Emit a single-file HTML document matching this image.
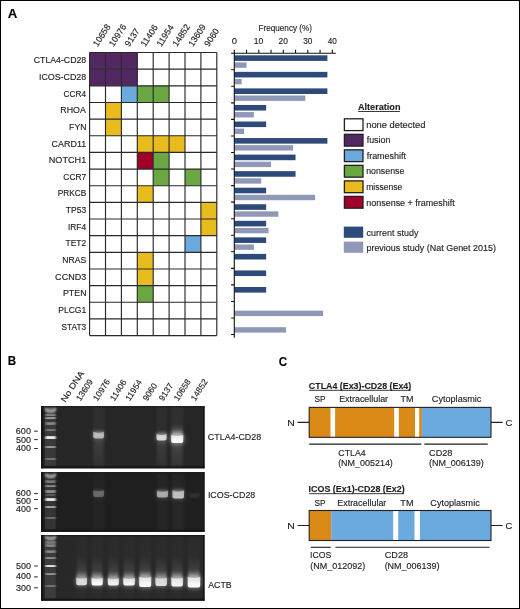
<!DOCTYPE html><html><head><meta charset="utf-8"><style>html,body{margin:0;padding:0;background:#fff;}svg{display:block;will-change:transform;}text{font-family:"Liberation Sans", sans-serif;stroke:#231f20;stroke-width:0.15px;}</style></head><body>
<svg width="520" height="609" viewBox="0 0 520 609">
<defs>
<filter id="b05" x="-50%" y="-50%" width="200%" height="200%"><feGaussianBlur stdDeviation="0.5"/></filter>
<filter id="b1" x="-50%" y="-50%" width="200%" height="200%"><feGaussianBlur stdDeviation="0.8"/></filter>
<filter id="b2" x="-50%" y="-50%" width="200%" height="200%"><feGaussianBlur stdDeviation="1.3"/></filter>
<filter id="b3" x="-50%" y="-50%" width="200%" height="200%"><feGaussianBlur stdDeviation="2.2"/></filter>
<linearGradient id="smear" x1="0" y1="0" x2="0" y2="1"><stop offset="0" stop-color="#fff" stop-opacity="0"/><stop offset="1" stop-color="#fff" stop-opacity="0.4"/></linearGradient>
<linearGradient id="g01" x1="0" y1="0" x2="0" y2="1"><stop offset="0" stop-color="#fff" stop-opacity="0"/><stop offset="1" stop-color="#fff" stop-opacity="1"/></linearGradient>
<linearGradient id="g10" x1="0" y1="0" x2="0" y2="1"><stop offset="0" stop-color="#fff" stop-opacity="1"/><stop offset="1" stop-color="#fff" stop-opacity="0.2"/></linearGradient>
<linearGradient id="gcore" x1="0" y1="0" x2="0" y2="1"><stop offset="0" stop-color="#fff" stop-opacity="0.6"/><stop offset="0.55" stop-color="#fff" stop-opacity="0.92"/><stop offset="1" stop-color="#fff" stop-opacity="1"/></linearGradient>
<linearGradient id="bandg" x1="0" y1="0" x2="0" y2="1"><stop offset="0" stop-color="#fff" stop-opacity="0.35"/><stop offset="0.45" stop-color="#fff" stop-opacity="0.85"/><stop offset="1" stop-color="#fff" stop-opacity="1"/></linearGradient>
</defs>
<rect x="0" y="0" width="520" height="609" fill="#fff"/>
<rect x="0.5" y="0.5" width="519" height="608" fill="none" stroke="#000" stroke-width="1"/>
<text x="7.77" y="18.30" font-size="13" font-weight="bold" fill="#000" textLength="9.58" lengthAdjust="spacingAndGlyphs">A</text>
<text x="7.82" y="365.40" font-size="13" font-weight="bold" fill="#000" textLength="8.41" lengthAdjust="spacingAndGlyphs">B</text>
<text x="278.82" y="365.60" font-size="13" font-weight="bold" fill="#000" textLength="8.39" lengthAdjust="spacingAndGlyphs">C</text>
<rect x="89.60" y="52.50" width="15.90" height="16.65" fill="#522862"/>
<rect x="105.50" y="52.50" width="15.90" height="16.65" fill="#522862"/>
<rect x="121.40" y="52.50" width="15.90" height="16.65" fill="#522862"/>
<rect x="89.60" y="69.15" width="15.90" height="16.65" fill="#522862"/>
<rect x="105.50" y="69.15" width="15.90" height="16.65" fill="#522862"/>
<rect x="121.40" y="69.15" width="15.90" height="16.65" fill="#522862"/>
<rect x="121.40" y="85.80" width="15.90" height="16.65" fill="#6aaadf"/>
<rect x="137.30" y="85.80" width="15.90" height="16.65" fill="#6aa642"/>
<rect x="153.20" y="85.80" width="15.90" height="16.65" fill="#6aa642"/>
<rect x="105.50" y="102.45" width="15.90" height="16.65" fill="#e8bc1e"/>
<rect x="105.50" y="119.10" width="15.90" height="16.65" fill="#e8bc1e"/>
<rect x="137.30" y="135.75" width="15.90" height="16.65" fill="#e8bc1e"/>
<rect x="153.20" y="135.75" width="15.90" height="16.65" fill="#e8bc1e"/>
<rect x="169.10" y="135.75" width="15.90" height="16.65" fill="#e8bc1e"/>
<rect x="137.30" y="152.40" width="15.90" height="16.65" fill="#a2002a"/>
<rect x="153.20" y="152.40" width="15.90" height="16.65" fill="#6aa642"/>
<rect x="153.20" y="169.05" width="15.90" height="16.65" fill="#6aa642"/>
<rect x="185.00" y="169.05" width="15.90" height="16.65" fill="#6aa642"/>
<rect x="137.30" y="185.70" width="15.90" height="16.65" fill="#e8bc1e"/>
<rect x="200.90" y="202.35" width="15.90" height="16.65" fill="#e8bc1e"/>
<rect x="200.90" y="219.00" width="15.90" height="16.65" fill="#e8bc1e"/>
<rect x="185.00" y="235.65" width="15.90" height="16.65" fill="#6aaadf"/>
<rect x="137.30" y="252.30" width="15.90" height="16.65" fill="#e8bc1e"/>
<rect x="137.30" y="268.95" width="15.90" height="16.65" fill="#e8bc1e"/>
<rect x="137.30" y="285.60" width="15.90" height="16.65" fill="#6aa642"/>
<path d="M89.60 52.50V335.55M105.50 52.50V335.55M121.40 52.50V335.55M137.30 52.50V335.55M153.20 52.50V335.55M169.10 52.50V335.55M185.00 52.50V335.55M200.90 52.50V335.55M216.80 52.50V335.55M89.60 52.50H216.80M89.60 69.15H216.80M89.60 85.80H216.80M89.60 102.45H216.80M89.60 119.10H216.80M89.60 135.75H216.80M89.60 152.40H216.80M89.60 169.05H216.80M89.60 185.70H216.80M89.60 202.35H216.80M89.60 219.00H216.80M89.60 235.65H216.80M89.60 252.30H216.80M89.60 268.95H216.80M89.60 285.60H216.80M89.60 302.25H216.80M89.60 318.90H216.80M89.60 335.55H216.80" stroke="#2a2a2a" stroke-width="1.15" fill="none"/>
<text x="33.76" y="63.28" font-size="9" fill="#231f20" textLength="52.42" lengthAdjust="spacingAndGlyphs">CTLA4-CD28</text>
<text x="38.98" y="79.92" font-size="9" fill="#231f20" textLength="47.20" lengthAdjust="spacingAndGlyphs">ICOS-CD28</text>
<text x="63.58" y="96.58" font-size="9" fill="#231f20" textLength="22.46" lengthAdjust="spacingAndGlyphs">CCR4</text>
<text x="60.27" y="113.22" font-size="9" fill="#231f20" textLength="25.54" lengthAdjust="spacingAndGlyphs">RHOA</text>
<text x="69.09" y="129.88" font-size="9" fill="#231f20" textLength="17.43" lengthAdjust="spacingAndGlyphs">FYN</text>
<text x="51.55" y="146.52" font-size="9" fill="#231f20" textLength="34.68" lengthAdjust="spacingAndGlyphs">CARD11</text>
<text x="48.75" y="163.17" font-size="9" fill="#231f20" textLength="37.49" lengthAdjust="spacingAndGlyphs">NOTCH1</text>
<text x="63.37" y="179.82" font-size="9" fill="#231f20" textLength="22.85" lengthAdjust="spacingAndGlyphs">CCR7</text>
<text x="57.72" y="196.47" font-size="9" fill="#231f20" textLength="28.52" lengthAdjust="spacingAndGlyphs">PRKCB</text>
<text x="65.81" y="213.12" font-size="9" fill="#231f20" textLength="20.37" lengthAdjust="spacingAndGlyphs">TP53</text>
<text x="67.93" y="229.77" font-size="9" fill="#231f20" textLength="18.12" lengthAdjust="spacingAndGlyphs">IRF4</text>
<text x="65.51" y="246.42" font-size="9" fill="#231f20" textLength="20.72" lengthAdjust="spacingAndGlyphs">TET2</text>
<text x="62.29" y="263.07" font-size="9" fill="#231f20" textLength="23.90" lengthAdjust="spacingAndGlyphs">NRAS</text>
<text x="55.14" y="279.72" font-size="9" fill="#231f20" textLength="31.05" lengthAdjust="spacingAndGlyphs">CCND3</text>
<text x="62.98" y="296.37" font-size="9" fill="#231f20" textLength="23.54" lengthAdjust="spacingAndGlyphs">PTEN</text>
<text x="58.20" y="313.02" font-size="9" fill="#231f20" textLength="28.02" lengthAdjust="spacingAndGlyphs">PLCG1</text>
<text x="61.44" y="329.67" font-size="9" fill="#231f20" textLength="24.71" lengthAdjust="spacingAndGlyphs">STAT3</text>
<text x="0" y="0" font-size="8.8" fill="#231f20" transform="translate(97.55,47.2) rotate(-57)">10658</text>
<text x="0" y="0" font-size="8.8" fill="#231f20" transform="translate(113.45,47.2) rotate(-57)">10976</text>
<text x="0" y="0" font-size="8.8" fill="#231f20" transform="translate(129.35,47.2) rotate(-57)">9137</text>
<text x="0" y="0" font-size="8.8" fill="#231f20" transform="translate(145.25,47.2) rotate(-57)">11406</text>
<text x="0" y="0" font-size="8.8" fill="#231f20" transform="translate(161.15,47.2) rotate(-57)">11954</text>
<text x="0" y="0" font-size="8.8" fill="#231f20" transform="translate(177.05,47.2) rotate(-57)">14852</text>
<text x="0" y="0" font-size="8.8" fill="#231f20" transform="translate(192.95,47.2) rotate(-57)">13609</text>
<text x="0" y="0" font-size="8.8" fill="#231f20" transform="translate(208.85,47.2) rotate(-57)">9060</text>
<rect x="234.30" y="55.30" width="93.10" height="5.6" fill="#2e4a7a"/>
<rect x="234.30" y="62.40" width="12.25" height="5.4" fill="#9098b8"/>
<rect x="234.30" y="71.85" width="93.10" height="5.6" fill="#2e4a7a"/>
<rect x="234.30" y="78.95" width="7.35" height="5.4" fill="#9098b8"/>
<rect x="234.30" y="88.40" width="93.10" height="5.6" fill="#2e4a7a"/>
<rect x="234.30" y="95.50" width="71.05" height="5.4" fill="#9098b8"/>
<rect x="234.30" y="104.95" width="31.85" height="5.6" fill="#2e4a7a"/>
<rect x="234.30" y="112.05" width="19.60" height="5.4" fill="#9098b8"/>
<rect x="234.30" y="121.50" width="31.85" height="5.6" fill="#2e4a7a"/>
<rect x="234.30" y="128.60" width="9.80" height="5.4" fill="#9098b8"/>
<rect x="234.30" y="138.05" width="93.10" height="5.6" fill="#2e4a7a"/>
<rect x="234.30" y="145.15" width="58.80" height="5.4" fill="#9098b8"/>
<rect x="234.30" y="154.60" width="61.25" height="5.6" fill="#2e4a7a"/>
<rect x="234.30" y="161.70" width="36.75" height="5.4" fill="#9098b8"/>
<rect x="234.30" y="171.15" width="61.25" height="5.6" fill="#2e4a7a"/>
<rect x="234.30" y="178.25" width="26.95" height="5.4" fill="#9098b8"/>
<rect x="234.30" y="187.70" width="31.85" height="5.6" fill="#2e4a7a"/>
<rect x="234.30" y="194.80" width="80.85" height="5.4" fill="#9098b8"/>
<rect x="234.30" y="204.25" width="31.85" height="5.6" fill="#2e4a7a"/>
<rect x="234.30" y="211.35" width="44.10" height="5.4" fill="#9098b8"/>
<rect x="234.30" y="220.80" width="31.85" height="5.6" fill="#2e4a7a"/>
<rect x="234.30" y="227.90" width="34.30" height="5.4" fill="#9098b8"/>
<rect x="234.30" y="237.35" width="31.85" height="5.6" fill="#2e4a7a"/>
<rect x="234.30" y="244.45" width="19.60" height="5.4" fill="#9098b8"/>
<rect x="234.30" y="253.90" width="31.85" height="5.6" fill="#2e4a7a"/>
<rect x="234.30" y="270.45" width="31.85" height="5.6" fill="#2e4a7a"/>
<rect x="234.30" y="287.00" width="31.85" height="5.6" fill="#2e4a7a"/>
<rect x="234.30" y="310.65" width="88.69" height="5.4" fill="#9098b8"/>
<rect x="234.30" y="327.20" width="51.70" height="5.4" fill="#9098b8"/>
<path d="M231.10 53.20H335.80M234.30 53.20V337.75M234.30 53.20V49.80M246.55 53.20V49.80M258.80 53.20V49.80M271.05 53.20V49.80M283.30 53.20V49.80M295.55 53.20V49.80M307.80 53.20V49.80M320.05 53.20V49.80M332.30 53.20V49.80M234.30 69.75H231.10M234.30 86.30H231.10M234.30 102.85H231.10M234.30 119.40H231.10M234.30 135.95H231.10M234.30 152.50H231.10M234.30 169.05H231.10M234.30 185.60H231.10M234.30 202.15H231.10M234.30 218.70H231.10M234.30 235.25H231.10M234.30 251.80H231.10M234.30 268.35H231.10M234.30 284.90H231.10M234.30 301.45H231.10M234.30 318.00H231.10M234.30 334.55H231.10" stroke="#111" stroke-width="1.1" fill="none"/>
<text x="231.68" y="44.20" font-size="8.8" fill="#231f20" textLength="5.24" lengthAdjust="spacingAndGlyphs">0</text>
<text x="253.84" y="44.20" font-size="8.8" fill="#231f20" textLength="9.59" lengthAdjust="spacingAndGlyphs">10</text>
<text x="278.58" y="44.20" font-size="8.8" fill="#231f20" textLength="9.35" lengthAdjust="spacingAndGlyphs">20</text>
<text x="303.18" y="44.20" font-size="8.8" fill="#231f20" textLength="9.24" lengthAdjust="spacingAndGlyphs">30</text>
<text x="327.81" y="44.20" font-size="8.8" fill="#231f20" textLength="9.11" lengthAdjust="spacingAndGlyphs">40</text>
<text x="258.53" y="30.50" font-size="9.6" fill="#231f20" textLength="53.47" lengthAdjust="spacingAndGlyphs">Frequency (%)</text>
<text x="357.97" y="109.90" font-size="9.4" font-weight="bold" fill="#231f20" textLength="42.49" lengthAdjust="spacingAndGlyphs">Alteration</text>
<path d="M358.2 111.5H399.9" stroke="#231f20" stroke-width="0.9"/>
<rect x="344.4" y="118.80" width="18.6" height="11.8" fill="#fff" stroke="#231f20" stroke-width="1.3"/>
<text x="366.18" y="127.90" font-size="9.2" fill="#231f20" textLength="59.32" lengthAdjust="spacingAndGlyphs">none detected</text>
<rect x="344.4" y="134.32" width="18.6" height="11.8" fill="#522862" stroke="#231f20" stroke-width="1.3"/>
<text x="366.67" y="143.42" font-size="9.2" fill="#231f20" textLength="23.81" lengthAdjust="spacingAndGlyphs">fusion</text>
<rect x="344.4" y="149.84" width="18.6" height="11.8" fill="#6aaadf" stroke="#231f20" stroke-width="1.3"/>
<text x="366.67" y="158.94" font-size="9.2" fill="#231f20" textLength="39.39" lengthAdjust="spacingAndGlyphs">frameshift</text>
<rect x="344.4" y="165.36" width="18.6" height="11.8" fill="#6aa642" stroke="#231f20" stroke-width="1.3"/>
<text x="366.22" y="174.46" font-size="9.2" fill="#231f20" textLength="38.07" lengthAdjust="spacingAndGlyphs">nonsense</text>
<rect x="344.4" y="180.88" width="18.6" height="11.8" fill="#e8bc1e" stroke="#231f20" stroke-width="1.3"/>
<text x="366.23" y="189.98" font-size="9.2" fill="#231f20" textLength="36.15" lengthAdjust="spacingAndGlyphs">missense</text>
<rect x="344.4" y="196.40" width="18.6" height="11.8" fill="#a2002a" stroke="#231f20" stroke-width="1.3"/>
<text x="366.20" y="205.50" font-size="9.2" fill="#231f20" textLength="88.56" lengthAdjust="spacingAndGlyphs">nonsense + frameshift</text>
<rect x="343.8" y="226.60" width="19.4" height="11.2" fill="#2e4a7a"/>
<text x="366.62" y="235.50" font-size="9.2" fill="#231f20" textLength="51.80" lengthAdjust="spacingAndGlyphs">current study</text>
<rect x="343.8" y="241.60" width="19.4" height="11.2" fill="#9098b8"/>
<text x="366.42" y="250.50" font-size="9.2" fill="#231f20" textLength="129.63" lengthAdjust="spacingAndGlyphs">previous study (Nat Genet 2015)</text>
<rect x="41.1" y="406.2" width="163.4" height="62.1" fill="#262626"/>
<rect x="41.1" y="406.2" width="2.2" height="62.1" fill="#131313"/>
<rect x="41.1" y="466.3" width="163.4" height="2.0" fill="#151515"/>
<rect x="203.0" y="406.2" width="1.5" height="62.1" fill="#151515"/>
<rect x="41.1" y="406.2" width="163.4" height="1.0" fill="#161616"/>
<rect x="41.1" y="472.2" width="163.4" height="59.6" fill="#1f1f1f"/>
<rect x="41.1" y="472.2" width="2.2" height="59.6" fill="#131313"/>
<rect x="41.1" y="529.8" width="163.4" height="2.0" fill="#151515"/>
<rect x="203.0" y="472.2" width="1.5" height="59.6" fill="#151515"/>
<rect x="41.1" y="472.2" width="163.4" height="1.0" fill="#161616"/>
<rect x="41.1" y="535.1" width="163.4" height="65.6" fill="#282828"/>
<rect x="41.1" y="535.1" width="2.2" height="65.6" fill="#131313"/>
<rect x="41.1" y="598.7" width="163.4" height="2.0" fill="#151515"/>
<rect x="203.0" y="535.1" width="1.5" height="65.6" fill="#151515"/>
<rect x="41.1" y="535.1" width="163.4" height="1.0" fill="#161616"/>
<rect x="45.0" y="407.7" width="10.8" height="58.1" fill="#fff" opacity="0.09" filter="url(#b05)"/>
<path d="M45.6 408.10C46.10 411.30 47.60 411.80 50.6 411.80C53.60 411.80 55.10 411.30 55.6 408.10" stroke="#fff" stroke-width="2.0" fill="#fff" fill-opacity="0.5" opacity="0.63" filter="url(#b1)"/>
<path d="M45.6 414.45Q50.6 415.85 55.6 414.45" stroke="#fff" stroke-width="2.00" fill="none" stroke-linecap="butt" opacity="0.63" filter="url(#b1)"/>
<path d="M45.6 417.75Q50.6 419.15 55.6 417.75" stroke="#fff" stroke-width="2.50" fill="none" stroke-linecap="butt" opacity="0.72" filter="url(#b1)"/>
<path d="M45.6 423.15Q50.6 424.55 55.6 423.15" stroke="#fff" stroke-width="2.50" fill="none" stroke-linecap="butt" opacity="0.57" filter="url(#b1)"/>
<path d="M45.6 429.65Q50.6 431.05 55.6 429.65" stroke="#fff" stroke-width="2.50" fill="none" stroke-linecap="butt" opacity="0.45" filter="url(#b1)"/>
<path d="M45.6 437.25Q50.6 438.65 55.6 437.25" stroke="#fff" stroke-width="5.00" fill="none" stroke-linecap="butt" opacity="0.92" filter="url(#b1)"/>
<path d="M45.6 446.65Q50.6 448.05 55.6 446.65" stroke="#fff" stroke-width="3.12" fill="none" stroke-linecap="butt" opacity="0.60" filter="url(#b1)"/>
<path d="M45.6 458.65Q50.6 460.05 55.6 458.65" stroke="#fff" stroke-width="3.75" fill="none" stroke-linecap="butt" opacity="0.33" filter="url(#b1)"/>
<rect x="45.0" y="473.7" width="10.8" height="55.6" fill="#fff" opacity="0.09" filter="url(#b05)"/>
<path d="M45.6 473.70C46.10 476.70 47.60 477.20 50.6 477.20C53.60 477.20 55.10 476.70 55.6 473.70" stroke="#fff" stroke-width="2.0" fill="#fff" fill-opacity="0.5" opacity="0.63" filter="url(#b1)"/>
<path d="M45.6 481.25Q50.6 482.65 55.6 481.25" stroke="#fff" stroke-width="2.12" fill="none" stroke-linecap="butt" opacity="0.60" filter="url(#b1)"/>
<path d="M45.6 485.95Q50.6 487.35 55.6 485.95" stroke="#fff" stroke-width="2.50" fill="none" stroke-linecap="butt" opacity="0.63" filter="url(#b1)"/>
<path d="M45.6 491.05Q50.6 492.45 55.6 491.05" stroke="#fff" stroke-width="3.00" fill="none" stroke-linecap="butt" opacity="0.57" filter="url(#b1)"/>
<path d="M45.6 494.45Q50.6 495.85 55.6 494.45" stroke="#fff" stroke-width="2.00" fill="none" stroke-linecap="butt" opacity="0.30" filter="url(#b1)"/>
<path d="M45.6 499.15Q50.6 500.55 55.6 499.15" stroke="#fff" stroke-width="4.75" fill="none" stroke-linecap="butt" opacity="0.92" filter="url(#b1)"/>
<path d="M45.6 506.75Q50.6 508.15 55.6 506.75" stroke="#fff" stroke-width="3.38" fill="none" stroke-linecap="butt" opacity="0.63" filter="url(#b1)"/>
<path d="M45.6 517.35Q50.6 518.75 55.6 517.35" stroke="#fff" stroke-width="2.75" fill="none" stroke-linecap="butt" opacity="0.38" filter="url(#b1)"/>
<rect x="45.0" y="536.6" width="10.8" height="61.6" fill="#fff" opacity="0.09" filter="url(#b05)"/>
<path d="M45.6 536.10C46.10 538.70 47.60 539.20 50.6 539.20C53.60 539.20 55.10 538.70 55.6 536.10" stroke="#fff" stroke-width="2.0" fill="#fff" fill-opacity="0.5" opacity="0.63" filter="url(#b1)"/>
<path d="M45.6 542.05Q50.6 543.45 55.6 542.05" stroke="#fff" stroke-width="2.00" fill="none" stroke-linecap="butt" opacity="0.57" filter="url(#b1)"/>
<path d="M45.6 545.15Q50.6 546.55 55.6 545.15" stroke="#fff" stroke-width="2.12" fill="none" stroke-linecap="butt" opacity="0.63" filter="url(#b1)"/>
<path d="M45.6 551.25Q50.6 552.65 55.6 551.25" stroke="#fff" stroke-width="2.00" fill="none" stroke-linecap="butt" opacity="0.63" filter="url(#b1)"/>
<path d="M45.6 557.65Q50.6 559.05 55.6 557.65" stroke="#fff" stroke-width="2.75" fill="none" stroke-linecap="butt" opacity="0.54" filter="url(#b1)"/>
<path d="M45.6 565.55Q50.6 566.95 55.6 565.55" stroke="#fff" stroke-width="4.12" fill="none" stroke-linecap="butt" opacity="0.92" filter="url(#b1)"/>
<path d="M45.6 573.85Q50.6 575.25 55.6 573.85" stroke="#fff" stroke-width="2.75" fill="none" stroke-linecap="butt" opacity="0.60" filter="url(#b1)"/>
<path d="M45.6 585.55Q50.6 586.95 55.6 585.55" stroke="#fff" stroke-width="2.75" fill="none" stroke-linecap="butt" opacity="0.38" filter="url(#b1)"/>
<rect x="93.00" y="407.20" width="11.40" height="59.10" fill="#fff" opacity="0.04" filter="url(#b1)"/>
<rect x="156.30" y="407.20" width="10.70" height="59.10" fill="#fff" opacity="0.035" filter="url(#b1)"/>
<rect x="171.00" y="407.20" width="12.40" height="59.10" fill="#fff" opacity="0.045" filter="url(#b1)"/>
<rect x="93.70" y="438.60" width="9.80" height="27.20" fill="url(#g10)" opacity="0.07" filter="url(#b1)"/>
<rect x="157.00" y="440.40" width="9.10" height="25.40" fill="url(#g10)" opacity="0.07" filter="url(#b1)"/>
<rect x="171.70" y="443.00" width="11.00" height="22.80" fill="url(#g10)" opacity="0.1" filter="url(#b1)"/>
<rect x="93.50" y="429.80" width="10.20" height="5.10" fill="url(#g01)" opacity="0.37" filter="url(#b1)"/>
<rect x="92.60" y="431.40" width="12.00" height="8.20" rx="2" fill="#fff" opacity="0.19" filter="url(#b3)"/>
<path d="M93.20 431.60Q98.60 434.00 104.00 431.60L104.00 436.60Q104.00 438.60 102.00 438.60L95.20 438.60Q93.20 438.60 93.20 436.60Z" fill="url(#gcore)" opacity="0.62" filter="url(#b05)"/>
<rect x="156.80" y="431.00" width="9.50" height="6.10" fill="url(#g01)" opacity="0.47" filter="url(#b1)"/>
<rect x="155.90" y="433.60" width="11.30" height="7.80" rx="2" fill="#fff" opacity="0.23" filter="url(#b3)"/>
<path d="M156.50 433.80Q161.55 436.20 166.60 433.80L166.60 438.40Q166.60 440.40 164.60 440.40L158.50 440.40Q156.50 440.40 156.50 438.40Z" fill="url(#gcore)" opacity="0.78" filter="url(#b05)"/>
<rect x="171.80" y="424.00" width="10.80" height="11.60" fill="url(#g01)" opacity="0.25" filter="url(#b1)"/>
<rect x="171.50" y="429.00" width="11.40" height="9.10" fill="url(#g01)" opacity="0.60" filter="url(#b1)"/>
<rect x="170.60" y="434.60" width="13.20" height="9.40" rx="2" fill="#fff" opacity="0.45" filter="url(#b3)"/>
<path d="M171.20 434.80Q177.20 437.20 183.20 434.80L183.20 441.00Q183.20 443.00 181.20 443.00L173.20 443.00Q171.20 443.00 171.20 441.00Z" fill="url(#gcore)" opacity="1.00" filter="url(#b05)"/>
<rect x="93.00" y="473.20" width="11.40" height="56.60" fill="#fff" opacity="0.02" filter="url(#b1)"/>
<rect x="156.50" y="473.20" width="11.50" height="56.60" fill="#fff" opacity="0.025" filter="url(#b1)"/>
<rect x="172.20" y="473.20" width="12.00" height="56.60" fill="#fff" opacity="0.03" filter="url(#b1)"/>
<rect x="93.50" y="488.70" width="10.20" height="4.70" fill="url(#g01)" opacity="0.16" filter="url(#b1)"/>
<rect x="92.60" y="489.90" width="12.00" height="8.10" rx="2" fill="#fff" opacity="0.08" filter="url(#b3)"/>
<path d="M93.20 490.10Q98.60 492.50 104.00 490.10L104.00 495.00Q104.00 497.00 102.00 497.00L95.20 497.00Q93.20 497.00 93.20 495.00Z" fill="url(#gcore)" opacity="0.26" filter="url(#b05)"/>
<rect x="157.20" y="488.50" width="10.50" height="5.30" fill="url(#g01)" opacity="0.33" filter="url(#b1)"/>
<rect x="156.30" y="490.30" width="12.30" height="8.20" rx="2" fill="#fff" opacity="0.17" filter="url(#b3)"/>
<path d="M156.90 490.50Q162.45 492.90 168.00 490.50L168.00 495.50Q168.00 497.50 166.00 497.50L158.90 497.50Q156.90 497.50 156.90 495.50Z" fill="url(#gcore)" opacity="0.55" filter="url(#b05)"/>
<rect x="172.70" y="488.00" width="11.00" height="5.50" fill="url(#g01)" opacity="0.41" filter="url(#b1)"/>
<rect x="171.80" y="490.00" width="12.80" height="9.40" rx="2" fill="#fff" opacity="0.20" filter="url(#b3)"/>
<path d="M172.40 490.20Q178.20 492.60 184.00 490.20L184.00 496.40Q184.00 498.40 182.00 498.40L174.40 498.40Q172.40 498.40 172.40 496.40Z" fill="url(#gcore)" opacity="0.68" filter="url(#b05)"/>
<rect x="189.50" y="491.50" width="10.00" height="4.00" fill="url(#g01)" opacity="0.03" filter="url(#b1)"/>
<rect x="188.60" y="492.00" width="11.80" height="7.00" rx="2" fill="#fff" opacity="0.01" filter="url(#b3)"/>
<path d="M189.20 492.20Q194.50 494.60 199.80 492.20L199.80 496.00Q199.80 498.00 197.80 498.00L191.20 498.00Q189.20 498.00 189.20 496.00Z" fill="url(#gcore)" opacity="0.05" filter="url(#b05)"/>
<rect x="76.20" y="536.10" width="10.70" height="62.60" fill="#fff" opacity="0.015" filter="url(#b1)"/>
<rect x="76.80" y="556.00" width="9.50" height="22.20" fill="url(#g01)" opacity="0.14" filter="url(#b1)"/>
<rect x="76.50" y="570.70" width="10.10" height="10.00" fill="url(#g01)" opacity="0.48" filter="url(#b1)"/>
<rect x="75.60" y="577.20" width="11.90" height="9.00" rx="2" fill="#fff" opacity="0.32" filter="url(#b3)"/>
<path d="M76.20 577.40Q81.55 579.80 86.90 577.40L86.90 583.20Q86.90 585.20 84.90 585.20L78.20 585.20Q76.20 585.20 76.20 583.20Z" fill="url(#gcore)" opacity="0.80" filter="url(#b05)"/>
<rect x="91.50" y="536.10" width="11.20" height="62.60" fill="#fff" opacity="0.015" filter="url(#b1)"/>
<rect x="92.10" y="556.00" width="10.00" height="22.60" fill="url(#g01)" opacity="0.14" filter="url(#b1)"/>
<rect x="91.80" y="571.10" width="10.60" height="10.00" fill="url(#g01)" opacity="0.60" filter="url(#b1)"/>
<rect x="90.90" y="577.60" width="12.40" height="9.00" rx="2" fill="#fff" opacity="0.40" filter="url(#b3)"/>
<path d="M91.50 577.80Q97.10 580.20 102.70 577.80L102.70 583.60Q102.70 585.60 100.70 585.60L93.50 585.60Q91.50 585.60 91.50 583.60Z" fill="url(#gcore)" opacity="1.00" filter="url(#b05)"/>
<rect x="107.90" y="536.10" width="10.90" height="62.60" fill="#fff" opacity="0.015" filter="url(#b1)"/>
<rect x="108.50" y="556.00" width="9.70" height="22.80" fill="url(#g01)" opacity="0.14" filter="url(#b1)"/>
<rect x="108.20" y="571.30" width="10.30" height="10.00" fill="url(#g01)" opacity="0.55" filter="url(#b1)"/>
<rect x="107.30" y="577.80" width="12.10" height="8.60" rx="2" fill="#fff" opacity="0.37" filter="url(#b3)"/>
<path d="M107.90 578.00Q113.35 580.40 118.80 578.00L118.80 583.40Q118.80 585.40 116.80 585.40L109.90 585.40Q107.90 585.40 107.90 583.40Z" fill="url(#gcore)" opacity="0.92" filter="url(#b05)"/>
<rect x="123.30" y="536.10" width="11.50" height="62.60" fill="#fff" opacity="0.015" filter="url(#b1)"/>
<rect x="123.90" y="556.00" width="10.30" height="22.60" fill="url(#g01)" opacity="0.14" filter="url(#b1)"/>
<rect x="123.60" y="571.10" width="10.90" height="10.00" fill="url(#g01)" opacity="0.57" filter="url(#b1)"/>
<rect x="122.70" y="577.60" width="12.70" height="9.00" rx="2" fill="#fff" opacity="0.38" filter="url(#b3)"/>
<path d="M123.30 577.80Q129.05 580.20 134.80 577.80L134.80 583.60Q134.80 585.60 132.80 585.60L125.30 585.60Q123.30 585.60 123.30 583.60Z" fill="url(#gcore)" opacity="0.95" filter="url(#b05)"/>
<rect x="139.20" y="536.10" width="12.00" height="62.60" fill="#fff" opacity="0.015" filter="url(#b1)"/>
<rect x="139.80" y="556.00" width="10.80" height="21.60" fill="url(#g01)" opacity="0.14" filter="url(#b1)"/>
<rect x="139.50" y="570.10" width="11.40" height="10.00" fill="url(#g01)" opacity="0.60" filter="url(#b1)"/>
<rect x="138.60" y="576.60" width="13.20" height="11.40" rx="2" fill="#fff" opacity="0.40" filter="url(#b3)"/>
<path d="M139.20 576.80Q145.20 579.20 151.20 576.80L151.20 585.00Q151.20 587.00 149.20 587.00L141.20 587.00Q139.20 587.00 139.20 585.00Z" fill="url(#gcore)" opacity="1.00" filter="url(#b05)"/>
<rect x="155.40" y="536.10" width="11.50" height="62.60" fill="#fff" opacity="0.015" filter="url(#b1)"/>
<rect x="156.00" y="556.00" width="10.30" height="22.20" fill="url(#g01)" opacity="0.14" filter="url(#b1)"/>
<rect x="155.70" y="570.70" width="10.90" height="10.00" fill="url(#g01)" opacity="0.49" filter="url(#b1)"/>
<rect x="154.80" y="577.20" width="12.70" height="9.80" rx="2" fill="#fff" opacity="0.33" filter="url(#b3)"/>
<path d="M155.40 577.40Q161.15 579.80 166.90 577.40L166.90 584.00Q166.90 586.00 164.90 586.00L157.40 586.00Q155.40 586.00 155.40 584.00Z" fill="url(#gcore)" opacity="0.82" filter="url(#b05)"/>
<rect x="171.30" y="536.10" width="11.60" height="62.60" fill="#fff" opacity="0.015" filter="url(#b1)"/>
<rect x="171.90" y="556.00" width="10.40" height="22.20" fill="url(#g01)" opacity="0.14" filter="url(#b1)"/>
<rect x="171.60" y="570.70" width="11.00" height="10.00" fill="url(#g01)" opacity="0.57" filter="url(#b1)"/>
<rect x="170.70" y="577.20" width="12.80" height="10.40" rx="2" fill="#fff" opacity="0.38" filter="url(#b3)"/>
<path d="M171.30 577.40Q177.10 579.80 182.90 577.40L182.90 584.60Q182.90 586.60 180.90 586.60L173.30 586.60Q171.30 586.60 171.30 584.60Z" fill="url(#gcore)" opacity="0.95" filter="url(#b05)"/>
<rect x="187.70" y="536.10" width="12.50" height="62.60" fill="#fff" opacity="0.015" filter="url(#b1)"/>
<rect x="188.30" y="556.00" width="11.30" height="21.60" fill="url(#g01)" opacity="0.14" filter="url(#b1)"/>
<rect x="188.00" y="570.10" width="11.90" height="10.00" fill="url(#g01)" opacity="0.60" filter="url(#b1)"/>
<rect x="187.10" y="576.60" width="13.70" height="12.00" rx="2" fill="#fff" opacity="0.40" filter="url(#b3)"/>
<path d="M187.70 576.80Q193.95 579.20 200.20 576.80L200.20 585.60Q200.20 587.60 198.20 587.60L189.70 587.60Q187.70 587.60 187.70 585.60Z" fill="url(#gcore)" opacity="1.00" filter="url(#b05)"/>
<text x="15.84" y="433.60" font-size="9" fill="#231f20" textLength="15.11" lengthAdjust="spacingAndGlyphs">600</text>
<path d="M34.2 431.20H37.7" stroke="#231f20" stroke-width="1"/>
<text x="15.94" y="442.50" font-size="9" fill="#231f20" textLength="15.01" lengthAdjust="spacingAndGlyphs">500</text>
<path d="M34.2 439.60H37.7" stroke="#231f20" stroke-width="1"/>
<text x="16.10" y="451.30" font-size="9" fill="#231f20" textLength="14.85" lengthAdjust="spacingAndGlyphs">400</text>
<path d="M34.2 448.50H37.7" stroke="#231f20" stroke-width="1"/>
<text x="15.84" y="496.00" font-size="9" fill="#231f20" textLength="15.11" lengthAdjust="spacingAndGlyphs">600</text>
<path d="M34.2 493.60H37.7" stroke="#231f20" stroke-width="1"/>
<text x="15.94" y="503.70" font-size="9" fill="#231f20" textLength="15.01" lengthAdjust="spacingAndGlyphs">500</text>
<path d="M34.2 499.50H37.7" stroke="#231f20" stroke-width="1"/>
<text x="16.10" y="511.90" font-size="9" fill="#231f20" textLength="14.85" lengthAdjust="spacingAndGlyphs">400</text>
<path d="M34.2 508.70H37.7" stroke="#231f20" stroke-width="1"/>
<text x="15.94" y="568.70" font-size="9" fill="#231f20" textLength="15.01" lengthAdjust="spacingAndGlyphs">500</text>
<path d="M34.2 566.00H37.7" stroke="#231f20" stroke-width="1"/>
<text x="16.10" y="579.40" font-size="9" fill="#231f20" textLength="14.85" lengthAdjust="spacingAndGlyphs">400</text>
<path d="M34.2 576.90H37.7" stroke="#231f20" stroke-width="1"/>
<text x="15.96" y="590.80" font-size="9" fill="#231f20" textLength="14.99" lengthAdjust="spacingAndGlyphs">300</text>
<path d="M34.2 587.80H37.7" stroke="#231f20" stroke-width="1"/>
<text x="207.85" y="440.10" font-size="9.3" fill="#231f20" textLength="53.34" lengthAdjust="spacingAndGlyphs">CTLA4-CD28</text>
<text x="207.88" y="497.80" font-size="9.3" fill="#231f20" textLength="47.41" lengthAdjust="spacingAndGlyphs">ICOS-CD28</text>
<text x="208.28" y="587.70" font-size="9.3" fill="#231f20" textLength="23.38" lengthAdjust="spacingAndGlyphs">ACTB</text>
<text x="0" y="0" font-size="8.5" fill="#231f20" textLength="35.2" lengthAdjust="spacingAndGlyphs" transform="translate(65.20,402.8) rotate(-57)">No DNA</text>
<text x="0" y="0" font-size="8.5" fill="#231f20" transform="translate(80.50,401.4) rotate(-57)">13609</text>
<text x="0" y="0" font-size="8.5" fill="#231f20" transform="translate(97.50,401.4) rotate(-57)">10976</text>
<text x="0" y="0" font-size="8.5" fill="#231f20" transform="translate(114.40,401.4) rotate(-57)">11406</text>
<text x="0" y="0" font-size="8.5" fill="#231f20" transform="translate(129.80,401.4) rotate(-57)">11954</text>
<text x="0" y="0" font-size="8.5" fill="#231f20" transform="translate(147.20,401.4) rotate(-57)">9060</text>
<text x="0" y="0" font-size="8.5" fill="#231f20" transform="translate(163.20,401.4) rotate(-57)">9137</text>
<text x="0" y="0" font-size="8.5" fill="#231f20" transform="translate(178.20,401.4) rotate(-57)">10658</text>
<text x="0" y="0" font-size="8.5" fill="#231f20" transform="translate(195.20,401.4) rotate(-57)">14852</text>
<text x="308.84" y="388.60" font-size="9.4" font-weight="bold" fill="#231f20" textLength="102.40" lengthAdjust="spacingAndGlyphs">CTLA4 (Ex3)-CD28 (Ex4)</text>
<path d="M309.2 390.30H410.80" stroke="#231f20" stroke-width="0.9"/>
<rect x="309.2" y="407.4" width="112.70" height="29.90" fill="#da8a16"/>
<rect x="421.9" y="407.4" width="69.10" height="29.90" fill="#6aaadf"/>
<rect x="330.5" y="407.4" width="4.60" height="29.90" fill="#fff"/>
<rect x="394.2" y="407.4" width="4.60" height="29.90" fill="#fff"/>
<rect x="415.0" y="407.4" width="4.20" height="29.90" fill="#fff"/>
<rect x="309.2" y="407.4" width="181.80" height="29.90" fill="none" stroke="#231f20" stroke-width="1.1"/>
<path d="M297.5 422.35H309.2M491.0 422.35H502.6" stroke="#231f20" stroke-width="1.1"/>
<text x="287.15" y="425.55" font-size="9.3" fill="#231f20" textLength="7.50" lengthAdjust="spacingAndGlyphs">N</text>
<text x="505.52" y="425.65" font-size="9.3" fill="#231f20" textLength="6.84" lengthAdjust="spacingAndGlyphs">C</text>
<text x="314.42" y="402.40" font-size="9.3" fill="#231f20" textLength="11.12" lengthAdjust="spacingAndGlyphs">SP</text>
<text x="339.17" y="402.40" font-size="9.3" fill="#231f20" textLength="48.88" lengthAdjust="spacingAndGlyphs">Extracellular</text>
<text x="400.60" y="402.40" font-size="9.3" fill="#231f20" textLength="13.04" lengthAdjust="spacingAndGlyphs">TM</text>
<text x="431.84" y="402.40" font-size="9.3" fill="#231f20" textLength="49.60" lengthAdjust="spacingAndGlyphs">Cytoplasmic</text>
<path d="M309.2 444.10H421.2" stroke="#231f20" stroke-width="1.1"/>
<path d="M424.3 444.10H487.8" stroke="#231f20" stroke-width="1.1"/>
<text x="338.25" y="455.60" font-size="9.3" fill="#231f20" textLength="27.51" lengthAdjust="spacingAndGlyphs">CTLA4</text>
<text x="338.15" y="466.00" font-size="9.3" fill="#231f20" textLength="54.71" lengthAdjust="spacingAndGlyphs">(NM_005214)</text>
<text x="429.04" y="455.60" font-size="9.3" fill="#231f20" textLength="23.36" lengthAdjust="spacingAndGlyphs">CD28</text>
<text x="428.94" y="466.00" font-size="9.3" fill="#231f20" textLength="54.81" lengthAdjust="spacingAndGlyphs">(NM_006139)</text>
<text x="308.60" y="492.00" font-size="9.4" font-weight="bold" fill="#231f20" textLength="96.04" lengthAdjust="spacingAndGlyphs">ICOS (Ex1)-CD28 (Ex2)</text>
<path d="M309.2 493.70H404.20" stroke="#231f20" stroke-width="0.9"/>
<rect x="309.2" y="510.5" width="22.00" height="30.00" fill="#da8a16"/>
<rect x="331.2" y="510.5" width="159.80" height="30.00" fill="#6aaadf"/>
<rect x="393.2" y="510.5" width="5.00" height="30.00" fill="#fff"/>
<rect x="414.5" y="510.5" width="5.50" height="30.00" fill="#fff"/>
<rect x="309.2" y="510.5" width="181.80" height="30.00" fill="none" stroke="#231f20" stroke-width="1.1"/>
<path d="M297.5 525.50H309.2M491.0 525.50H502.6" stroke="#231f20" stroke-width="1.1"/>
<text x="287.15" y="528.70" font-size="9.3" fill="#231f20" textLength="7.50" lengthAdjust="spacingAndGlyphs">N</text>
<text x="505.52" y="528.80" font-size="9.3" fill="#231f20" textLength="6.84" lengthAdjust="spacingAndGlyphs">C</text>
<text x="314.42" y="505.50" font-size="9.3" fill="#231f20" textLength="11.12" lengthAdjust="spacingAndGlyphs">SP</text>
<text x="337.27" y="505.50" font-size="9.3" fill="#231f20" textLength="49.08" lengthAdjust="spacingAndGlyphs">Extracellular</text>
<text x="400.29" y="505.50" font-size="9.3" fill="#231f20" textLength="13.26" lengthAdjust="spacingAndGlyphs">TM</text>
<text x="430.34" y="505.50" font-size="9.3" fill="#231f20" textLength="49.40" lengthAdjust="spacingAndGlyphs">Cytoplasmic</text>
<path d="M310.8 547.30H330.8" stroke="#231f20" stroke-width="1.1"/>
<path d="M335.4 547.30H489.5" stroke="#231f20" stroke-width="1.1"/>
<text x="310.00" y="558.40" font-size="9.3" fill="#231f20" textLength="21.20" lengthAdjust="spacingAndGlyphs">ICOS</text>
<text x="310.24" y="568.80" font-size="9.3" fill="#231f20" textLength="54.91" lengthAdjust="spacingAndGlyphs">(NM_012092)</text>
<text x="384.74" y="558.40" font-size="9.3" fill="#231f20" textLength="23.36" lengthAdjust="spacingAndGlyphs">CD28</text>
<text x="384.64" y="568.80" font-size="9.3" fill="#231f20" textLength="54.91" lengthAdjust="spacingAndGlyphs">(NM_006139)</text>
</svg></body></html>
